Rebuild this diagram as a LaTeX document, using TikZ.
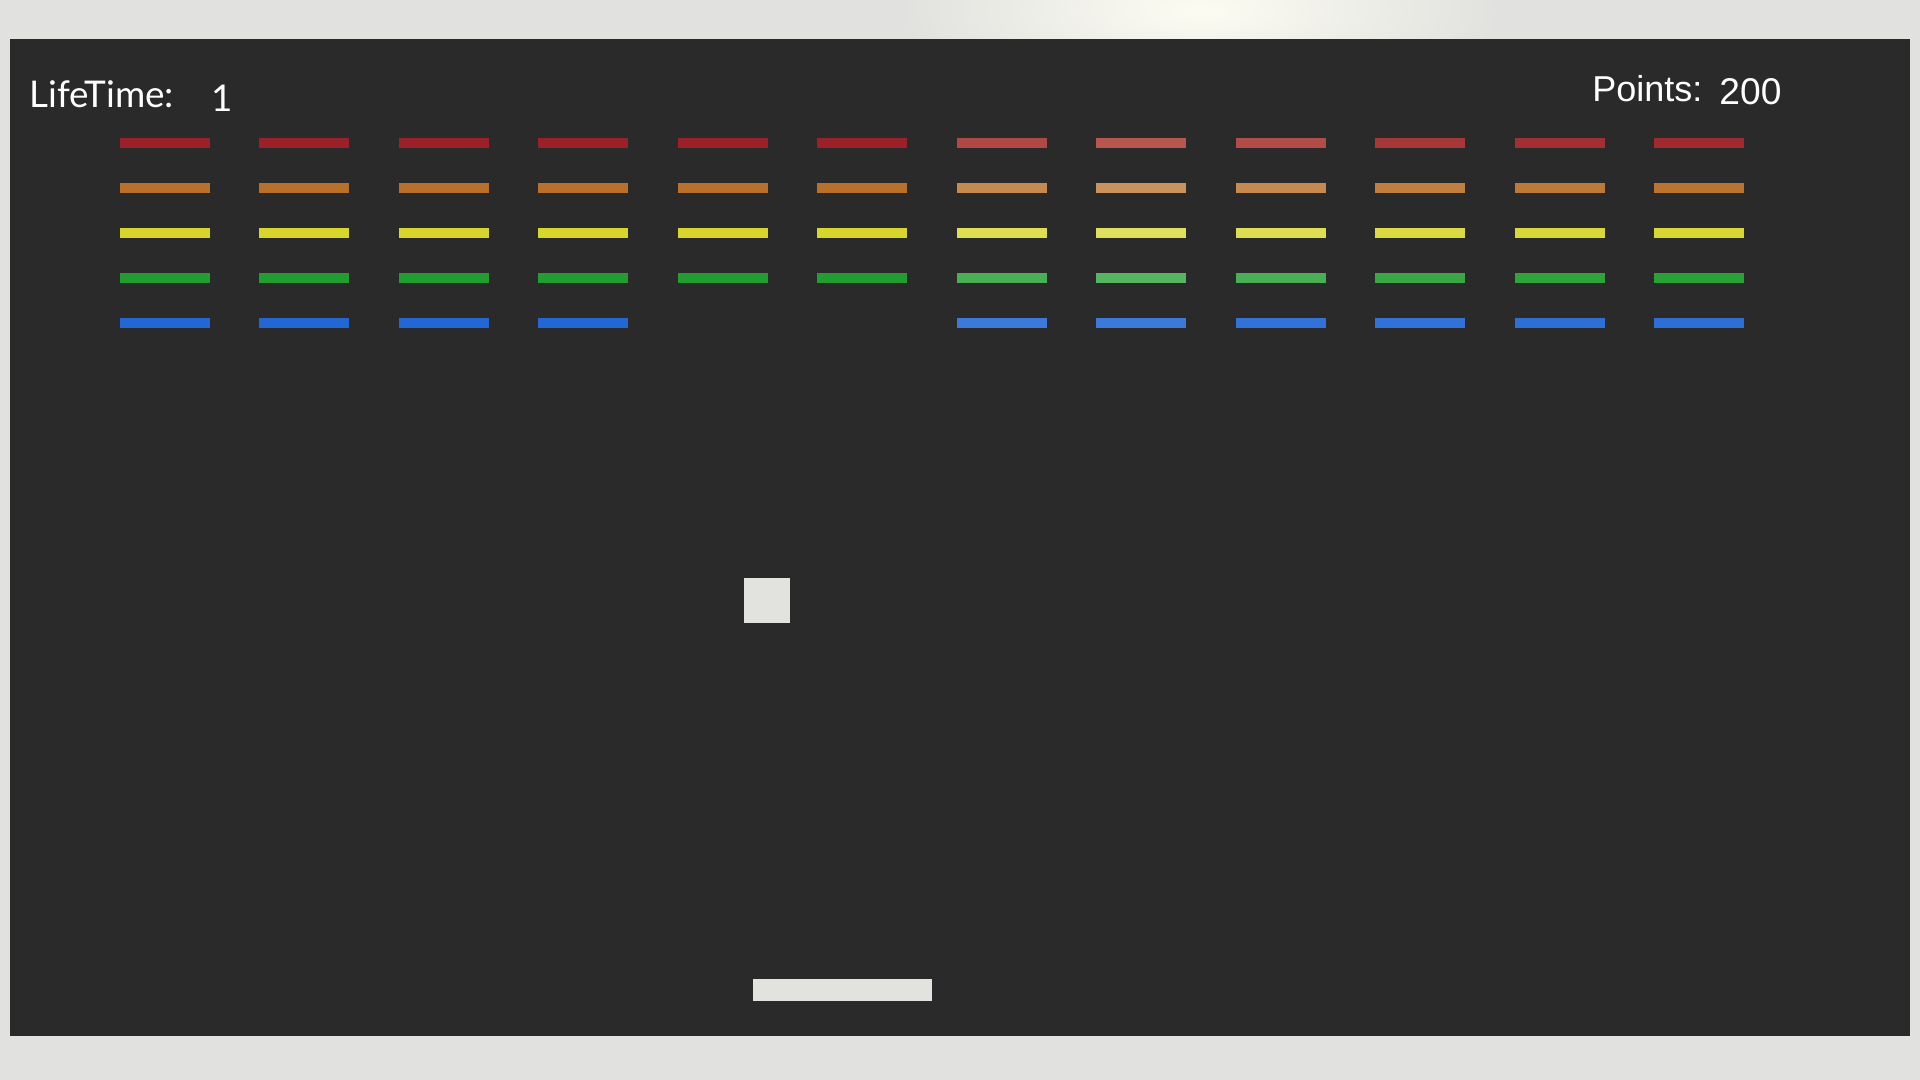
\documentclass[tikz,border=0pt]{standalone}
\usepackage{fontspec}
\newfontfamily\latofont{Lato}
\newfontfamily\arialfont{Liberation Sans}
\definecolor{bgc}{HTML}{E1E2DF}
\definecolor{dark}{HTML}{2A2A2A}
\definecolor{pale}{HTML}{E2E2DE}
\definecolor{bred}{HTML}{9A2129}
\definecolor{borange}{HTML}{B9702A}
\definecolor{byellow}{HTML}{D8D62B}
\definecolor{bgreen}{HTML}{219E2F}
\definecolor{bblue}{HTML}{2367D4}
\definecolor{spot}{HTML}{FCFCF2}
\definecolor{tint}{HTML}{E8B090}
\tikzset{
  brick/.style={fill=#1, draw=none},
  label/.style={text=white, inner sep=0pt, anchor=base west},
}
\begin{document}
\begin{tikzpicture}[x=0.5pt,y=-0.5pt]
\useasboundingbox (0,0) rectangle (1920,1080);
\fill[bgc] (0,0) rectangle (1920,1080);
\begin{scope}
  \clip (0,0) rectangle (1920,39);
  \shade[inner color=spot, outer color=bgc] (1200,10) ellipse (300 and 100);
\end{scope}
\fill[dark] (10,39) rectangle (1910,1036);
% bricks
\foreach \c/\p/\q in {0/100/100,1/100/100,2/100/100,3/100/100,4/100/100,5/100/100,6/72/82,7/62/76,8/70/82,9/84/90,10/90/94,11/94/97}{
  \pgfmathsetmacro{\xx}{120+\c*139.45}
  \fill[brick=bred!\p!tint] (\xx,138.3) rectangle ++(90,9.4);
  \fill[brick=borange!\q!white] (\xx,183.3) rectangle ++(90,9.4);
  \fill[brick=byellow!\q!white] (\xx,228.3) rectangle ++(90,9.4);
  \fill[brick=bgreen!\q!white] (\xx,273.3) rectangle ++(90,9.4);
}
\foreach \c/\p in {0/100,1/100,2/100,3/100,6/88,7/88,8/93,9/93,10/95,11/95}{
  \pgfmathsetmacro{\xx}{120+\c*139.45}
  \fill[brick=bblue!\p!white] (\xx,318.3) rectangle ++(90,9.4);
}
% ball and paddle
\fill[pale] (744,577.5) rectangle (789.5,622.5);
\fill[pale] (752.5,978.5) rectangle (932,1001);
% texts
\node[label, font=\latofont\fontsize{18.4}{20}\selectfont] (lifetime) at (29,108) {LifeTime:};
\node[label, font=\latofont\fontsize{18.4}{20}\selectfont] (lifeval) at (211,112) {1};
\node[label, font=\arialfont\fontsize{18}{20}\selectfont] (points) at (1592,102) {Points:};
\node[label, font=\arialfont\fontsize{18.6}{20}\selectfont] (pointsval) at (1719,105) {200};
\end{tikzpicture}
\end{document}
